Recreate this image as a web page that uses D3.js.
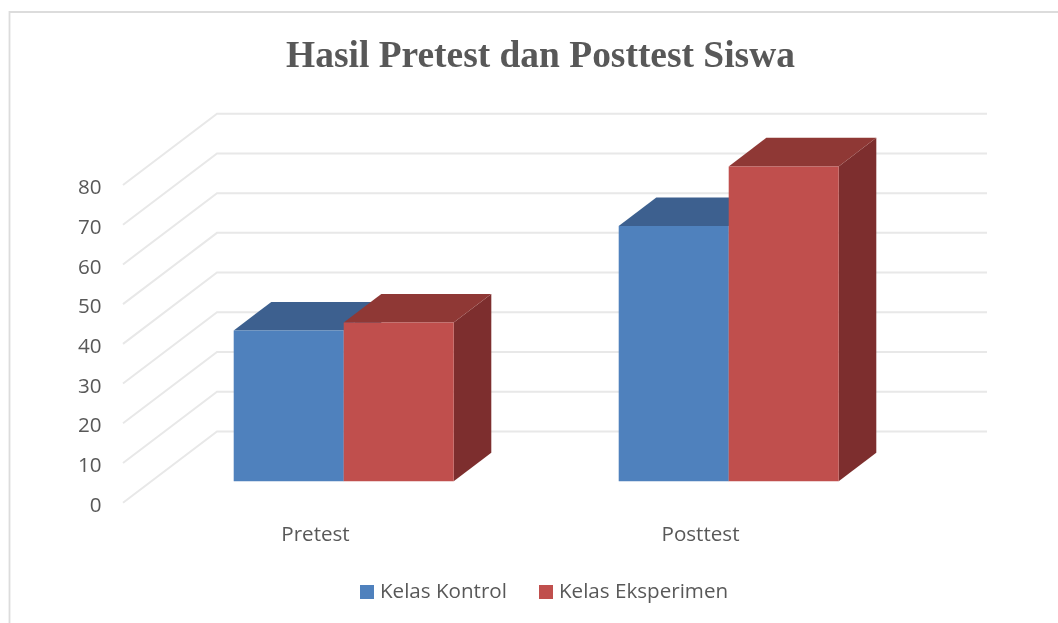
<!DOCTYPE html>
<html><head><meta charset="utf-8">
<script src="https://cdn.jsdelivr.net/npm/d3@7"></script>
<style>html,body{margin:0;padding:0;background:#fff}svg{display:block}</style>
</head><body>
<svg id="c" width="1058" height="623"></svg>
<script>
const titleText = "Hasil Pretest dan Posttest Siswa";
const categories = ["Pretest", "Posttest"];
const seriesNames = ["Kelas Kontrol", "Kelas Eksperimen"];
const kontrol = [38, 64.3];
const eksperimen = [40, 79.3];
const tickValues = [0, 10, 20, 30, 40, 50, 60, 70, 80];
const frontColors = ["#4f81bd", "#c0504d"];
const topColors = ["#3c618f", "#8f3836"];
const sideColors = ["#345478", "#7d2f2d"];

const W = 1058, H = 623;
const svg = d3.select("#c");
const labelFont = "'Open Sans', sans-serif";
const labelSize = 20.6;
const defs = svg.append("defs");
defs.append("filter").attr("id", "soft").attr("x", "-5%").attr("y", "-5%").attr("width", "110%").attr("height", "110%")
  .append("feGaussianBlur").attr("stdDeviation", 0.5);

const root = svg.append("g").attr("filter", "url(#soft)");
// chart frame (top and left edges visible)
root.append("path").attr("d", `M9.5,${H}V12H${W}`).attr("fill", "none").attr("stroke", "#dcdcdc").attr("stroke-width", 1.8);

// 3D projection: depth d in [0,1] shifts a point up and to the right
const depthX = 94, depthY = 71.3;
const x = d3.scaleBand().domain(categories).range([123, 893]);
const y = d3.scaleLinear().domain([0, 80]).range([502.7, 185]);
const px = (vx, d) => vx + d * depthX;
const py = (v, d) => y(v) - d * depthY;

// gridlines on side and back walls
const grid = root.append("g");
grid.selectAll("path").data(tickValues).join("path")
  .attr("d", t => d3.line()([[px(x.range()[0], 0), py(t, 0)], [px(x.range()[0], 1), py(t, 1)], [px(x.range()[1], 1), py(t, 1)]]))
  .attr("fill", "none").attr("stroke", "#e8e8e8").attr("stroke-width", 2);

// axis labels
const axisY = root.append("g").attr("transform", "translate(101.5,2)")
  .call(d3.axisLeft(y).tickValues(tickValues).tickSize(0).tickPadding(0).tickFormat(d3.format("d")));
axisY.select(".domain").remove();
axisY.selectAll("text").attr("font-family", labelFont).attr("font-size", labelSize).attr("fill", "#595959");

const axisX = root.append("g").attr("transform", "translate(0,526)")
  .call(d3.axisBottom(x).tickSize(0).tickPadding(0));
axisX.select(".domain").remove();
axisX.selectAll("text").attr("font-family", labelFont).attr("font-size", labelSize).attr("fill", "#595959");

// bars: sit between depth 0.3 and 0.7 of the floor
const d0 = 0.3, d1 = 0.7;
const inner = d3.scaleBand().domain(d3.range(2)).range([0, x.bandwidth()]).paddingOuter(0.75).paddingInner(0);
const seriesValues = [kontrol, eksperimen];
const poly = pts => d3.line()(pts) + "Z";
const bars = [];
categories.forEach((c, ci) => seriesValues.forEach((vals, si) => bars.push({c, si, v: vals[ci]})));
const gBars = root.append("g");
bars.forEach(b => {
  const xl = x(b.c) + inner(b.si), xr = xl + inner.bandwidth();
  const g = gBars.append("g");
  g.append("path").attr("fill", sideColors[b.si]).attr("d", poly([
    [px(xr, d0), py(0, d0)], [px(xr, d1), py(0, d1)], [px(xr, d1), py(b.v, d1)], [px(xr, d0), py(b.v, d0)]]));
  g.append("path").attr("fill", topColors[b.si]).attr("d", poly([
    [px(xl, d0), py(b.v, d0)], [px(xl, d1), py(b.v, d1)], [px(xr, d1), py(b.v, d1)], [px(xr, d0), py(b.v, d0)]]));
  g.append("path").attr("fill", frontColors[b.si]).attr("d", poly([
    [px(xl, d0), py(0, d0)], [px(xr, d0), py(0, d0)], [px(xr, d0), py(b.v, d0)], [px(xl, d0), py(b.v, d0)]]));
});

// title
root.append("text").attr("x", 540.5).attr("y", 67).attr("text-anchor", "middle")
  .attr("font-family", "'Liberation Serif', serif").attr("font-weight", "bold").attr("font-size", 37.45)
  .attr("fill", "#595959").text(titleText);

// legend
const legendX = [360, 539];
const leg = root.append("g").selectAll("g").data(seriesNames).join("g")
  .attr("transform", (d, i) => `translate(${legendX[i]},585)`);
leg.append("rect").attr("width", 14).attr("height", 14).attr("fill", (d, i) => frontColors[i]);
leg.append("text").attr("x", 20).attr("y", 13).attr("font-family", labelFont).attr("font-size", labelSize)
  .attr("fill", "#595959").text(d => d);
</script>
</body></html>
